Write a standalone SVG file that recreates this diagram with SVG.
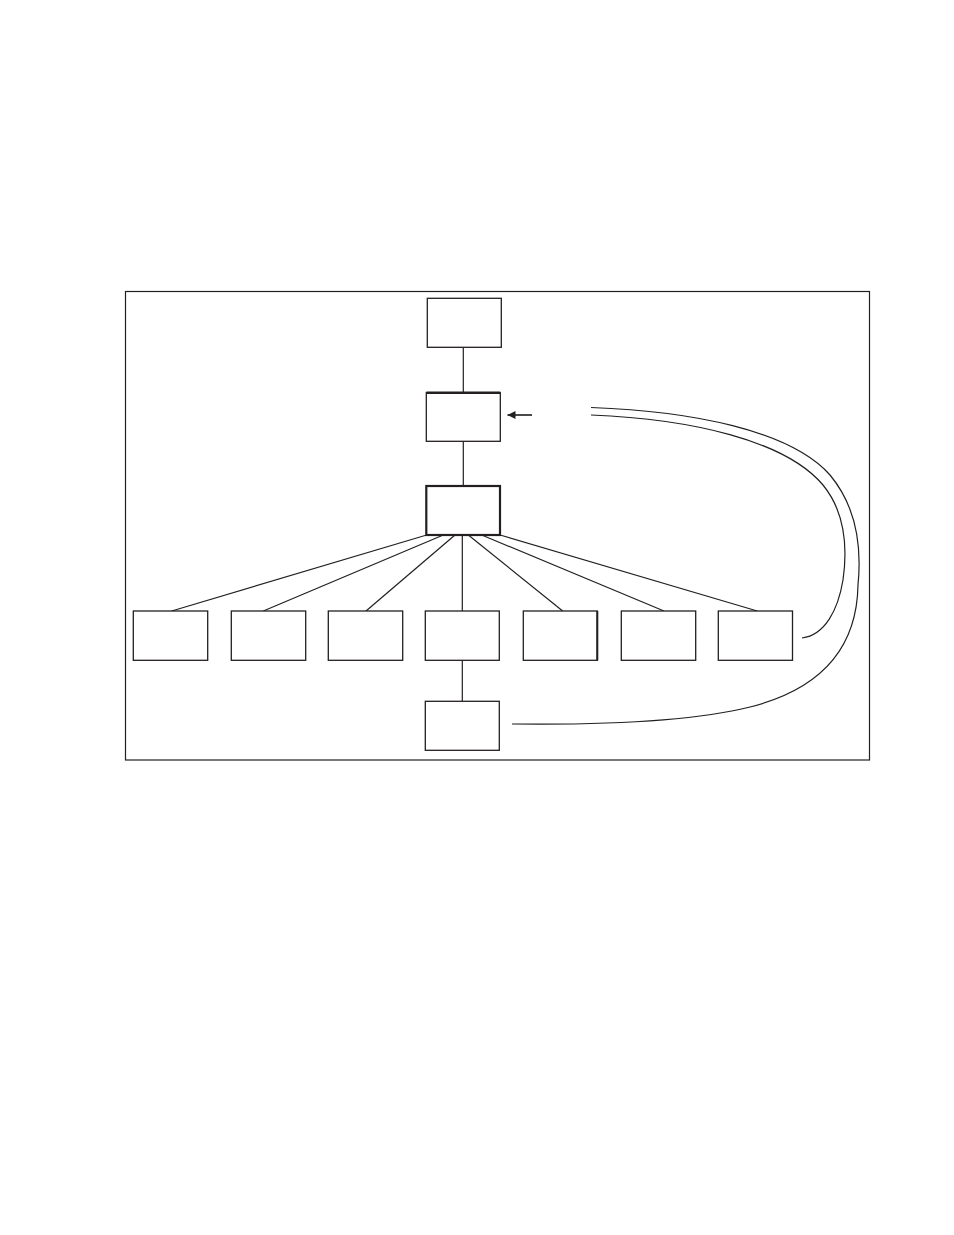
<svg xmlns="http://www.w3.org/2000/svg" width="954" height="1235" viewBox="0 0 954 1235">
<style>
.box{fill:#fff;stroke:#231f20;stroke-width:1.3}
.thick{fill:#fff;stroke:#231f20;stroke-width:2.2}
.ln{fill:none;stroke:#231f20;stroke-width:1.2}
.cv{fill:none;stroke:#231f20;stroke-width:1.2}
</style>
<defs>
<marker id="ah" viewBox="0 0 10 10" refX="10" refY="5" markerWidth="13" markerHeight="8" markerUnits="userSpaceOnUse" orient="auto">
<path d="M0,0 L10,5 L0,10 z" fill="#231f20"/>
</marker>
</defs>
<rect width="954" height="1235" fill="#fff"/>
<rect id="frame" x="125.5" y="291.5" width="744" height="468.5" fill="none" stroke="#231f20" stroke-width="1.2"/>
<g id="connectors">
<line class="ln" x1="463.3" y1="347" x2="463.3" y2="393"/>
<line class="ln" x1="463.3" y1="441" x2="463.3" y2="486"/>
<line class="ln" x1="426.7" y1="535" x2="171.7" y2="611"/>
<line class="ln" x1="443.3" y1="535" x2="263.3" y2="611"/>
<line class="ln" x1="455" y1="535" x2="366" y2="611"/>
<line class="ln" x1="462.3" y1="535" x2="462.3" y2="611"/>
<line class="ln" x1="468.3" y1="535" x2="562.7" y2="611"/>
<line class="ln" x1="481.7" y1="535" x2="664" y2="611"/>
<line class="ln" x1="500" y1="535" x2="757.3" y2="611"/>
<line class="ln" x1="462.3" y1="660" x2="462.3" y2="701"/>
<line x1="532" y1="415" x2="507.5" y2="415" stroke="#4a4a4a" stroke-width="2" marker-end="url(#ah)"/>
<path class="cv" d="M591,407.5 C690,411 790,430 830,475 C855,505 862,545 858,585 C857,645 825,688 750,707 C690,722 600,725 512,724"/>
<path class="cv" d="M591,415 C690,419 785,440 823,485 C845,512 848,545 843,580 C838,610 825,635 802,638"/>
</g>
<g id="n-top"><rect class="box" x="427.3" y="298.3" width="74" height="49"/></g>
<g id="n-second"><rect class="box" x="426.3" y="392.7" width="74" height="48.6"/><line x1="426.3" y1="392.7" x2="500.3" y2="392.7" stroke="#231f20" stroke-width="2.4"/></g>
<g id="n-third"><rect class="thick" x="426.3" y="486" width="73.7" height="49"/></g>
<g id="n-c1"><rect class="box" x="133.3" y="611" width="74.4" height="49.3"/></g>
<g id="n-c2"><rect class="box" x="231.3" y="611" width="74.4" height="49.3"/></g>
<g id="n-c3"><rect class="box" x="328.3" y="611" width="74.4" height="49.3"/></g>
<g id="n-c4"><rect class="box" x="425.3" y="611" width="74" height="49.3"/></g>
<g id="n-c5"><rect class="box" x="523.3" y="611" width="74" height="49.3"/><line x1="597.3" y1="611" x2="597.3" y2="660.3" stroke="#231f20" stroke-width="2"/></g>
<g id="n-c6"><rect class="box" x="621.3" y="611" width="74.4" height="49.3"/></g>
<g id="n-c7"><rect class="box" x="718.3" y="611" width="74.2" height="49.3"/></g>
<g id="n-bottom"><rect class="box" x="425.3" y="701.3" width="74" height="49"/></g>
</svg>
